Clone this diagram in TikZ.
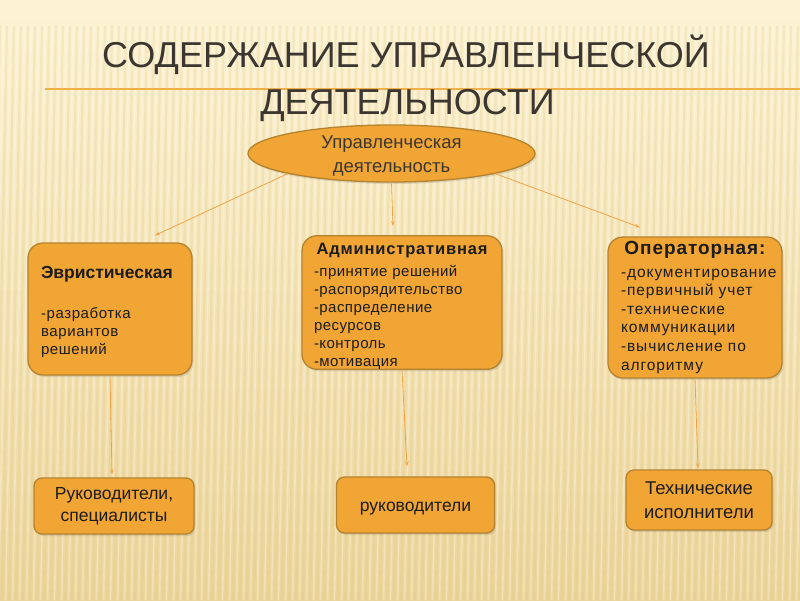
\documentclass[tikz,border=0pt]{standalone}
\usepackage{fontspec}
\setmainfont{Liberation Sans}
\usetikzlibrary{shapes.geometric,arrows.meta,calc,shadows}

\definecolor{bgtop}{HTML}{FDF3D3}
\definecolor{bgbot}{HTML}{ECD59A}
\definecolor{stripe}{HTML}{D9BF7E}
\definecolor{boxfill}{HTML}{F0A535}
\definecolor{boxline}{HTML}{B5822E}
\definecolor{arrcol}{HTML}{F2A446}
\definecolor{titlecol}{HTML}{3C3631}
\definecolor{txtcol}{HTML}{1C1C1C}
\definecolor{rulecol}{HTML}{EFB04A}

\begin{document}
\begin{tikzpicture}[x=1pt,y=-1pt,
  shade/.style={drop shadow={opacity=0.22,shadow xshift=1.5pt,shadow yshift=-2pt}},
  box/.style={draw=boxline,line width=1.3pt,fill=boxfill,rounded corners=15pt,
    inner sep=0pt,shade,text=txtcol},
  listbox/.style={box,align=left},
  endbox/.style={draw=boxline,line width=1.3pt,fill=boxfill,rounded corners=8pt,
    inner sep=0pt,shade,text=txtcol,align=center,
    font=\fontsize{17.5}{22.5}\selectfont},
  titletxt/.style={text=titlecol,anchor=base,inner sep=0pt,font=\fontsize{36}{44}\selectfont},
  arr/.style={draw=arrcol,line width=0.8pt,-{Stealth[length=5pt,width=3.5pt]}}
]
% background
\useasboundingbox (0,0) rectangle (800,600);
\shade[top color=bgtop,bottom color=bgbot] (0,0) rectangle (800,600);
\begin{scope}
\clip (0,26) rectangle (800,600);
\foreach \x in {-40,-33,...,840} {
  \draw[stripe,opacity=0.2,line width=2.2pt] (\x+12,26) -- (\x,600);
  \draw[white,opacity=0.28,line width=1.6pt] (\x+15.5,26) -- (\x+3.5,600);
}
\end{scope}

% title rule
\draw[rulecol,line width=1.4pt] (45,89) -- (800,89);
\node[titletxt] (title1) at (406,67) {СОДЕРЖАНИЕ УПРАВЛЕНЧЕСКОЙ};
\node[titletxt] (title2) at (407.5,114) {ДЕЯТЕЛЬНОСТИ};

% root
\node[ellipse,draw=boxline,line width=1.3pt,fill=boxfill,shade,
  minimum width=287pt,minimum height=57pt,inner sep=0pt]
  (root) at (391.5,153.5) {};
\node[align=center,inner sep=0pt,text=titlecol,font=\fontsize{18.5}{24}\selectfont]
  (roottext) at (391.5,156) {Управленческая\\деятельность};

% middle level
\node[listbox,font=\fontsize{15}{18}\selectfont\addfontfeature{LetterSpace=4},
  minimum width=164pt,minimum height=132pt,text width=138pt]
  (ev) at (110,309)
  {\rule{0pt}{19pt}{\bfseries\fontsize{17.5}{18}\selectfont\addfontfeature{LetterSpace=0}Эвристическая}\\[22pt]
   -разработка\\вариантов\\решений};

\node[listbox,font=\fontsize{15}{18}\selectfont\addfontfeature{LetterSpace=3},
  minimum width=200pt,minimum height=131pt,text width=176pt]
  (adm) at (402,302.5)
  {\rule{0pt}{19pt}\hbox to 176pt{\hss\bfseries\fontsize{16.5}{18}\selectfont\addfontfeature{LetterSpace=5}Административная\hss}\\[3.5pt]
   -принятие решений\\-распорядительство\\-распределение\\ресурсов\\-контроль\\-мотивация};

\node[listbox,font=\fontsize{15.5}{18.6}\selectfont\addfontfeature{LetterSpace=6},
  minimum width=174pt,minimum height=141pt,text width=148pt]
  (op) at (695,307.5)
  {\hbox to 148pt{\hss\bfseries\fontsize{19}{20}\selectfont\addfontfeature{LetterSpace=5}Операторная:\hss}\\[3.5pt]
   \mbox{-документирование}\\-первичный учет\\-технические\\коммуникации\\-вычисление по\\алгоритму};

% bottom level
\node[endbox,minimum width=160pt,minimum height=56pt] (b1) at (114,506)
  {Руководители,\\специалисты};
\node[endbox,text height=15pt,text depth=2pt,minimum width=158pt,minimum height=56pt] (b2) at (415.5,505)
  {руководители};
\node[endbox,font=\fontsize{18.5}{24}\selectfont,minimum width=146pt,minimum height=60pt] (b3) at (699,500)
  {Технические\\исполнители};

% connectors
\draw[arr] (root.191) -- ($(ev.north)+(45,-7)$);
\draw[arr] (root.south) -- ($(adm.north)+(-9,-9)$);
\draw[arr] (root.349) -- ($(op.north)+(-55,-9)$);
\draw[arr] (ev.south) -- ($(b1.north)+(-2,-3)$);
\draw[arr] (adm.south) -- ($(b2.north)+(-8.5,-10)$);
\draw[arr] (op.south) -- ($(b3.north)+(-1,-1)$);
\end{tikzpicture}
\end{document}
